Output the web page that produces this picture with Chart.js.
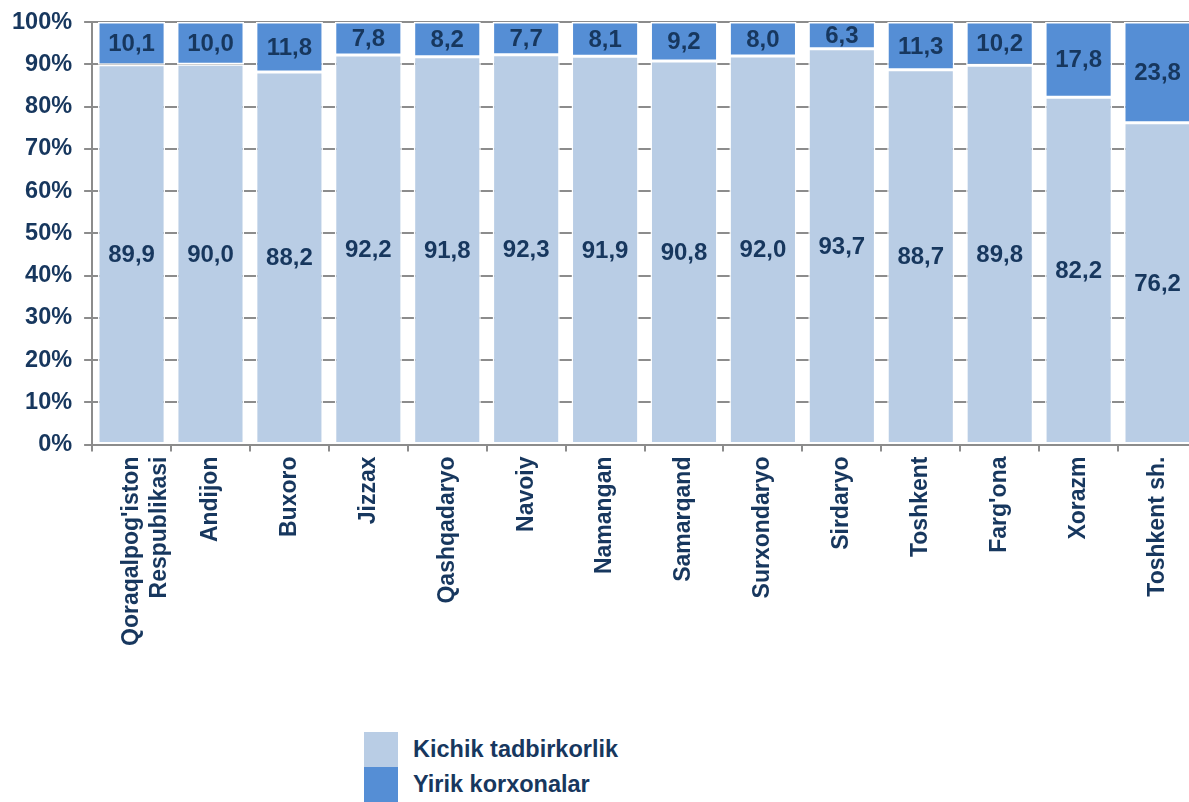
<!DOCTYPE html>
<html>
<head>
<meta charset="utf-8">
<script src="https://cdn.jsdelivr.net/npm/chart.js@4"></script>
<style>
  html, body { margin: 0; padding: 0; background: #fff; overflow: hidden; }
  .wrap { position: relative; width: 1197px; height: 655px; margin-top: -4px; }
  .legend { position: absolute; left: 364px; top: 732px; font-family: "Liberation Sans", Arial, sans-serif; font-weight: bold; font-size: 23.5px; color: #17375E; }
  .legend .item { display: flex; align-items: center; height: 35px; }
  .legend .box { width: 34px; height: 100%; margin-right: 15px; }
</style>
</head>
<body>
<div class="wrap"><canvas id="myChart"></canvas></div>
<div class="legend" id="legend"></div>
<script>
const regions = [
    ["Qoraqalpog'iston", "Respublikasi"], "Andijon", "Buxoro", "Jizzax", "Qashqadaryo", "Navoiy",
    "Namangan", "Samarqand", "Surxondaryo", "Sirdaryo", "Toshkent", "Farg'ona", "Xorazm", "Toshkent sh."
];
const small = [89.9, 90.0, 88.2, 92.2, 91.8, 92.3, 91.9, 90.8, 92.0, 93.7, 88.7, 89.8, 82.2, 76.2];
const large = [10.1, 10.0, 11.8, 7.8, 8.2, 7.7, 8.1, 9.2, 8.0, 6.3, 11.3, 10.2, 17.8, 23.8];
const seriesNames = ["Kichik tadbirkorlik", "Yirik korxonalar"];
const seriesColors = ["#B9CDE5", "#558ED5"];

const textColor = "#17375E";
const fontFamily = "'Liberation Sans', Arial, sans-serif";

// draws the value in the middle of each bar segment
const barLabels = {
    id: 'barLabels',
    afterDatasetsDraw(chart) {
        let ctx = chart.ctx;
        ctx.save();
        ctx.font = "bold 24px " + fontFamily;
        ctx.fillStyle = textColor;
        ctx.textAlign = "center";
        ctx.textBaseline = "middle";
        chart.data.datasets.forEach((ds, i) => {
            let meta = chart.getDatasetMeta(i);
            meta.data.forEach((bar, j) => {
                let p = bar.getProps(['x', 'y', 'base'], true);
                let txt = ds.data[j].toFixed(1).replace('.', ',');
                ctx.fillText(txt, p.x, (p.y + p.base) / 2 + 1);
            });
        });
        ctx.restore();
    }
};

let datasets = [small, large].map((vals, i) => ({
    label: seriesNames[i],
    data: vals,
    backgroundColor: seriesColors[i],
    borderColor: "#ffffff",
    borderWidth: 1.5,
    borderSkipped: false,
    barPercentage: 1,
    categoryPercentage: 0.85
}));

let ctx = document.getElementById("myChart").getContext("2d");
let myChart = new Chart(ctx, {
    type: 'bar',
    data: { labels: regions, datasets: datasets },
    plugins: [barLabels],
    options: {
        responsive: true,
        maintainAspectRatio: false,
        animation: false,
        layout: { padding: { top: 1, right: 0, bottom: 0, left: 0 } },
        plugins: {
            legend: { display: false },
            tooltip: { enabled: false }
        },
        scales: {
            x: {
                stacked: true,
                grid: { display: true, drawOnChartArea: false, drawTicks: true, tickLength: 7, color: "#8c8c8c", lineWidth: 2 },
                border: { color: "#8c8c8c", width: 2 },
                ticks: {
                    color: textColor,
                    font: { family: fontFamily, size: 23, weight: 'bold' },
                    minRotation: 90, maxRotation: 90,
                    autoSkip: false,
                    padding: 5
                }
            },
            y: {
                stacked: true,
                min: 0, max: 100,
                grid: { color: "#8c8c8c", lineWidth: 2, tickLength: 8 },
                border: { color: "#8c8c8c", width: 2 },
                ticks: {
                    stepSize: 10,
                    color: textColor,
                    padding: 12,
                    font: { family: fontFamily, size: 23.5, weight: 'bold' },
                    callback: (v) => v + "%"
                }
            }
        }
    }
});

let legend = document.getElementById("legend");
seriesNames.forEach((name, i) => {
    let item = document.createElement('div');
    item.className = "item";
    let box = document.createElement('div');
    box.className = "box";
    box.style.background = seriesColors[i];
    let label = document.createElement('span');
    label.textContent = name;
    item.appendChild(box);
    item.appendChild(label);
    legend.appendChild(item);
});
</script>
</body>
</html>
